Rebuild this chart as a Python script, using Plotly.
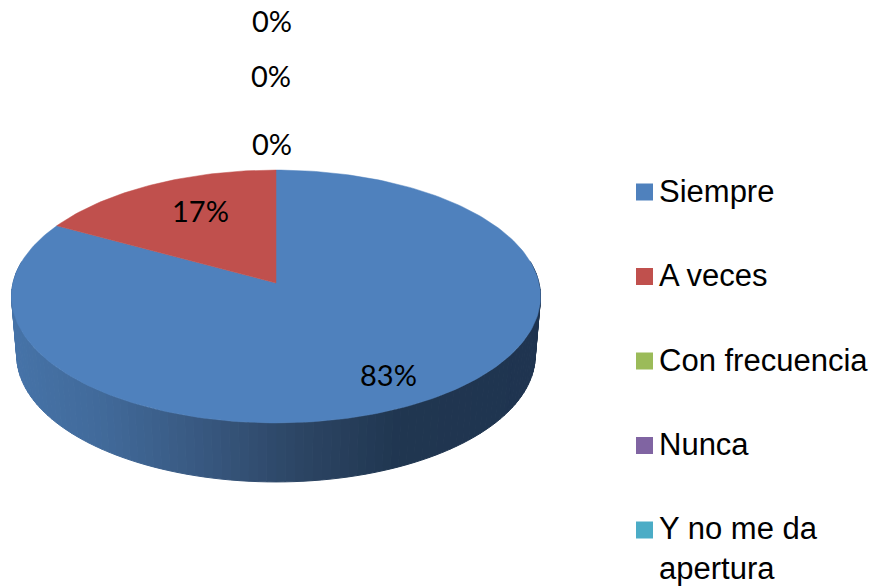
import math
import plotly.graph_objects as go

categories = ["Siempre", "A veces", "Con frecuencia", "Nunca", "Y no me da<br>apertura"]
values = [83, 17, 0, 0, 0]
percent_labels = ["83%", "17%", "0%", "0%", "0%"]
colors = ["#4F81BD", "#C0504D", "#9BBB59", "#8064A2", "#4BACC6"]

W, H = 874, 587
CX, APEX_Y = 276.0, 283.0
C, B, K = 263.0, 125.0, 0.1067   # perspective projection of the pie disc
DEPTH = 59.0
BOTTOM_SCALE = 0.98
LABEL_XY = [(388, 374), (200, 210), (272, 143), (271, 75), (272, 20)]
LEGEND_X, LEGEND_Y0, LEGEND_STEP = 644.5, 192.0, 84.5
GRADIENT = [(10, (70, 115, 168)), (100, (65, 106, 154)), (200, (56, 88, 128)),
            (300, (44, 69, 100)), (400, (32, 54, 80)), (545, (31, 52, 80))]


def project(theta, bottom=False):
    """Angle clockwise from 12 o'clock on the disc -> pixel position."""
    u, v = math.sin(theta), math.cos(theta)
    d = 1 + K * v
    x, y = C * u / d, B * v / d
    if bottom:
        return CX + x * BOTTOM_SCALE, APEX_Y - y + DEPTH
    return CX + x, APEX_Y - y


def side_color(x):
    for (x0, c0), (x1, c1) in zip(GRADIENT, GRADIENT[1:]):
        if x <= x1:
            t = max(0.0, (x - x0) / (x1 - x0))
            return "rgb(%d,%d,%d)" % tuple(round(a + (b - a) * t) for a, b in zip(c0, c1))
    return "rgb(%d,%d,%d)" % GRADIENT[-1][1]


fig = go.Figure()

# side wall: front part of the rim, shaded left to right
N = 110
a0, a1 = math.radians(80), math.radians(280)
for i in range(N):
    t0 = a0 + (a1 - a0) * i / N
    t1 = a0 + (a1 - a0) * (i + 1) / N
    p = [project(t0), project(t1), project(t1, True), project(t0, True), project(t0)]
    col = side_color((p[0][0] + p[1][0]) / 2)
    fig.add_trace(go.Scatter(x=[q[0] for q in p], y=[q[1] for q in p], mode="lines",
                             fill="toself", fillcolor=col, line=dict(color=col, width=1),
                             hoverinfo="skip", showlegend=False))

# top face: one wedge per category, from its share of the total
total = sum(values)
start = 0.0
for name, value, color in zip(categories, values, colors):
    sweep = 2 * math.pi * value / total
    if value > 0:
        steps = max(2, int(value * 3))
        pts = [(CX, APEX_Y)] + [project(start + sweep * j / steps) for j in range(steps + 1)] + [(CX, APEX_Y)]
        fig.add_trace(go.Scatter(x=[q[0] for q in pts], y=[q[1] for q in pts], mode="lines",
                                 fill="toself", fillcolor=color, line=dict(color=color, width=0.5),
                                 name=name.replace("<br>", " "), hoverinfo="name", showlegend=False))
    start += sweep

# legend swatches
for i, (name, color) in enumerate(zip(categories, colors)):
    fig.add_trace(go.Scatter(x=[LEGEND_X], y=[LEGEND_Y0 + LEGEND_STEP * i], mode="markers",
                             marker=dict(symbol="square", size=17, color=color, line=dict(width=0)),
                             name=name.replace("<br>", " "), hoverinfo="name", showlegend=False))
    two_lines = "<br>" in name
    fig.add_annotation(x=657, y=LEGEND_Y0 + LEGEND_STEP * i + (18 if two_lines else -1), text=name,
                       showarrow=False, xanchor="left", yanchor="middle", align="left",
                       font=dict(family="Liberation Sans", size=31, color="#000000"))

for text, (x, y) in zip(percent_labels, LABEL_XY):
    fig.add_annotation(x=x, y=y, text=text, showarrow=False, xanchor="center", yanchor="middle",
                       font=dict(family="Lato", size=29, color="#000000"))

fig.update_layout(
    width=W, height=H, margin=dict(l=0, r=0, t=0, b=0),
    paper_bgcolor="white", plot_bgcolor="white", showlegend=False,
    xaxis=dict(range=[0, W], visible=False, fixedrange=True),
    yaxis=dict(range=[H, 0], visible=False, fixedrange=True),
)
fig.write_html("out.html", config=dict(displayModeBar=False),
               post_script="document.body.style.margin='0';document.documentElement.style.overflow='hidden';")
